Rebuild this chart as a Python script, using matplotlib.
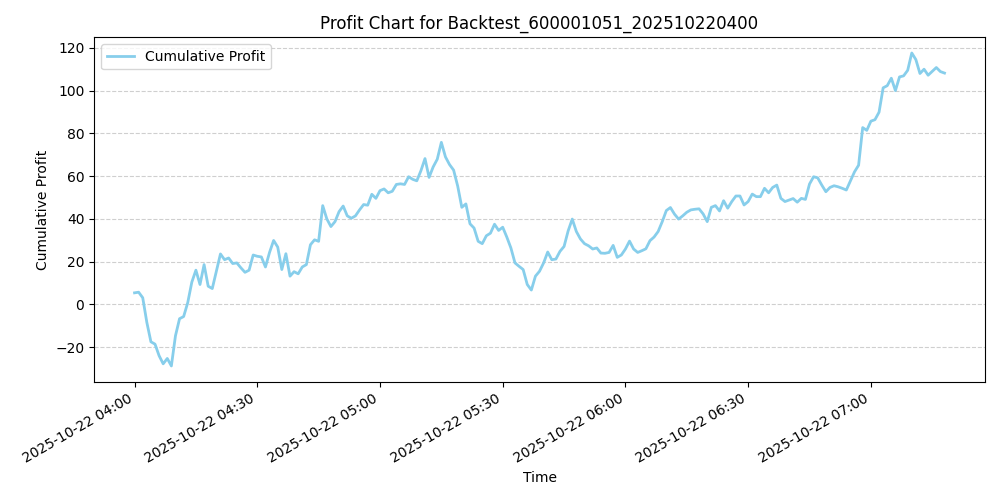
import matplotlib
matplotlib.use("Agg")
import matplotlib.pyplot as plt
import matplotlib.dates as mdates
import pandas as pd

start = "2025-10-22 04:00"

# cumulative profit, one value per minute
profit = [
    5.4, 5.7, 3.1, -8.4, -17.5, -18.6, -24.0, -27.8, -25.3, -28.8,
    -14.7, -6.7, -5.7, 0.8, 10.4, 16.0, 9.3, 18.6, 8.5, 7.4,
    15.5, 23.6, 20.9, 21.7, 19.1, 19.4, 17.1, 15.0, 16.0, 23.1,
    22.5, 22.2, 17.5, 24.3, 29.9, 26.8, 16.3, 23.7, 13.2, 15.3,
    14.3, 17.5, 18.6, 27.9, 30.2, 29.5, 46.2, 40.0, 36.4, 38.7,
    43.4, 46.0, 41.4, 40.3, 41.4, 44.2, 46.7, 46.4, 51.5, 49.6,
    53.2, 54.0, 52.2, 52.9, 56.1, 56.4, 56.1, 59.7, 58.5, 57.8,
    62.5, 68.2, 59.4, 64.3, 67.9, 75.8, 69.0, 65.4, 62.8, 55.3,
    45.4, 47.0, 37.7, 35.7, 29.5, 28.4, 32.1, 33.3, 37.5, 34.6,
    36.1, 31.5, 26.4, 19.4, 17.8, 16.3, 9.3, 6.7, 13.2, 15.5,
    19.4, 24.5, 20.9, 21.2, 24.8, 27.1, 34.4, 39.9, 34.1, 30.6,
    28.4, 27.4, 25.9, 26.4, 24.0, 23.9, 24.3, 27.6, 22.0, 23.1,
    25.9, 29.6, 25.9, 24.3, 25.1, 26.0, 29.8, 31.5, 34.1, 38.7,
    43.9, 45.3, 42.2, 39.9, 41.4, 43.1, 44.2, 44.5, 44.7, 42.3,
    38.7, 45.4, 46.2, 43.7, 48.5, 45.0, 48.1, 50.7, 50.7, 46.5,
    48.1, 51.6, 50.4, 50.4, 54.3, 52.2, 54.7, 55.8, 49.6, 48.1,
    48.8, 49.5, 47.8, 49.6, 49.1, 56.3, 59.7, 59.2, 55.8, 52.7,
    54.7, 55.5, 55.0, 54.3, 53.5, 57.8, 62.0, 65.1, 82.7, 81.4,
    85.7, 86.4, 89.9, 101.3, 102.3, 105.8, 100.0, 106.4, 106.9, 109.5,
    117.6, 114.5, 108.0, 110.0, 107.2, 109.0, 110.8, 108.9, 108.2,
]

times = pd.date_range(start, periods=len(profit), freq="min")

fig, ax = plt.subplots(figsize=(10, 5))
ax.plot(times, profit, color="skyblue", linewidth=2, label="Cumulative Profit")

ax.set_title("Profit Chart for Backtest_600001051_202510220400")
ax.set_xlabel("Time")
ax.set_ylabel("Cumulative Profit")
ax.xaxis.set_major_locator(mdates.MinuteLocator(byminute=[0, 30]))
ax.xaxis.set_major_formatter(mdates.DateFormatter("%Y-%m-%d %H:%M"))
ax.grid(axis="y", linestyle="--", alpha=0.6)
ax.legend(loc="upper left")
fig.autofmt_xdate()
plt.tight_layout()
plt.savefig("out.png", dpi=100)
